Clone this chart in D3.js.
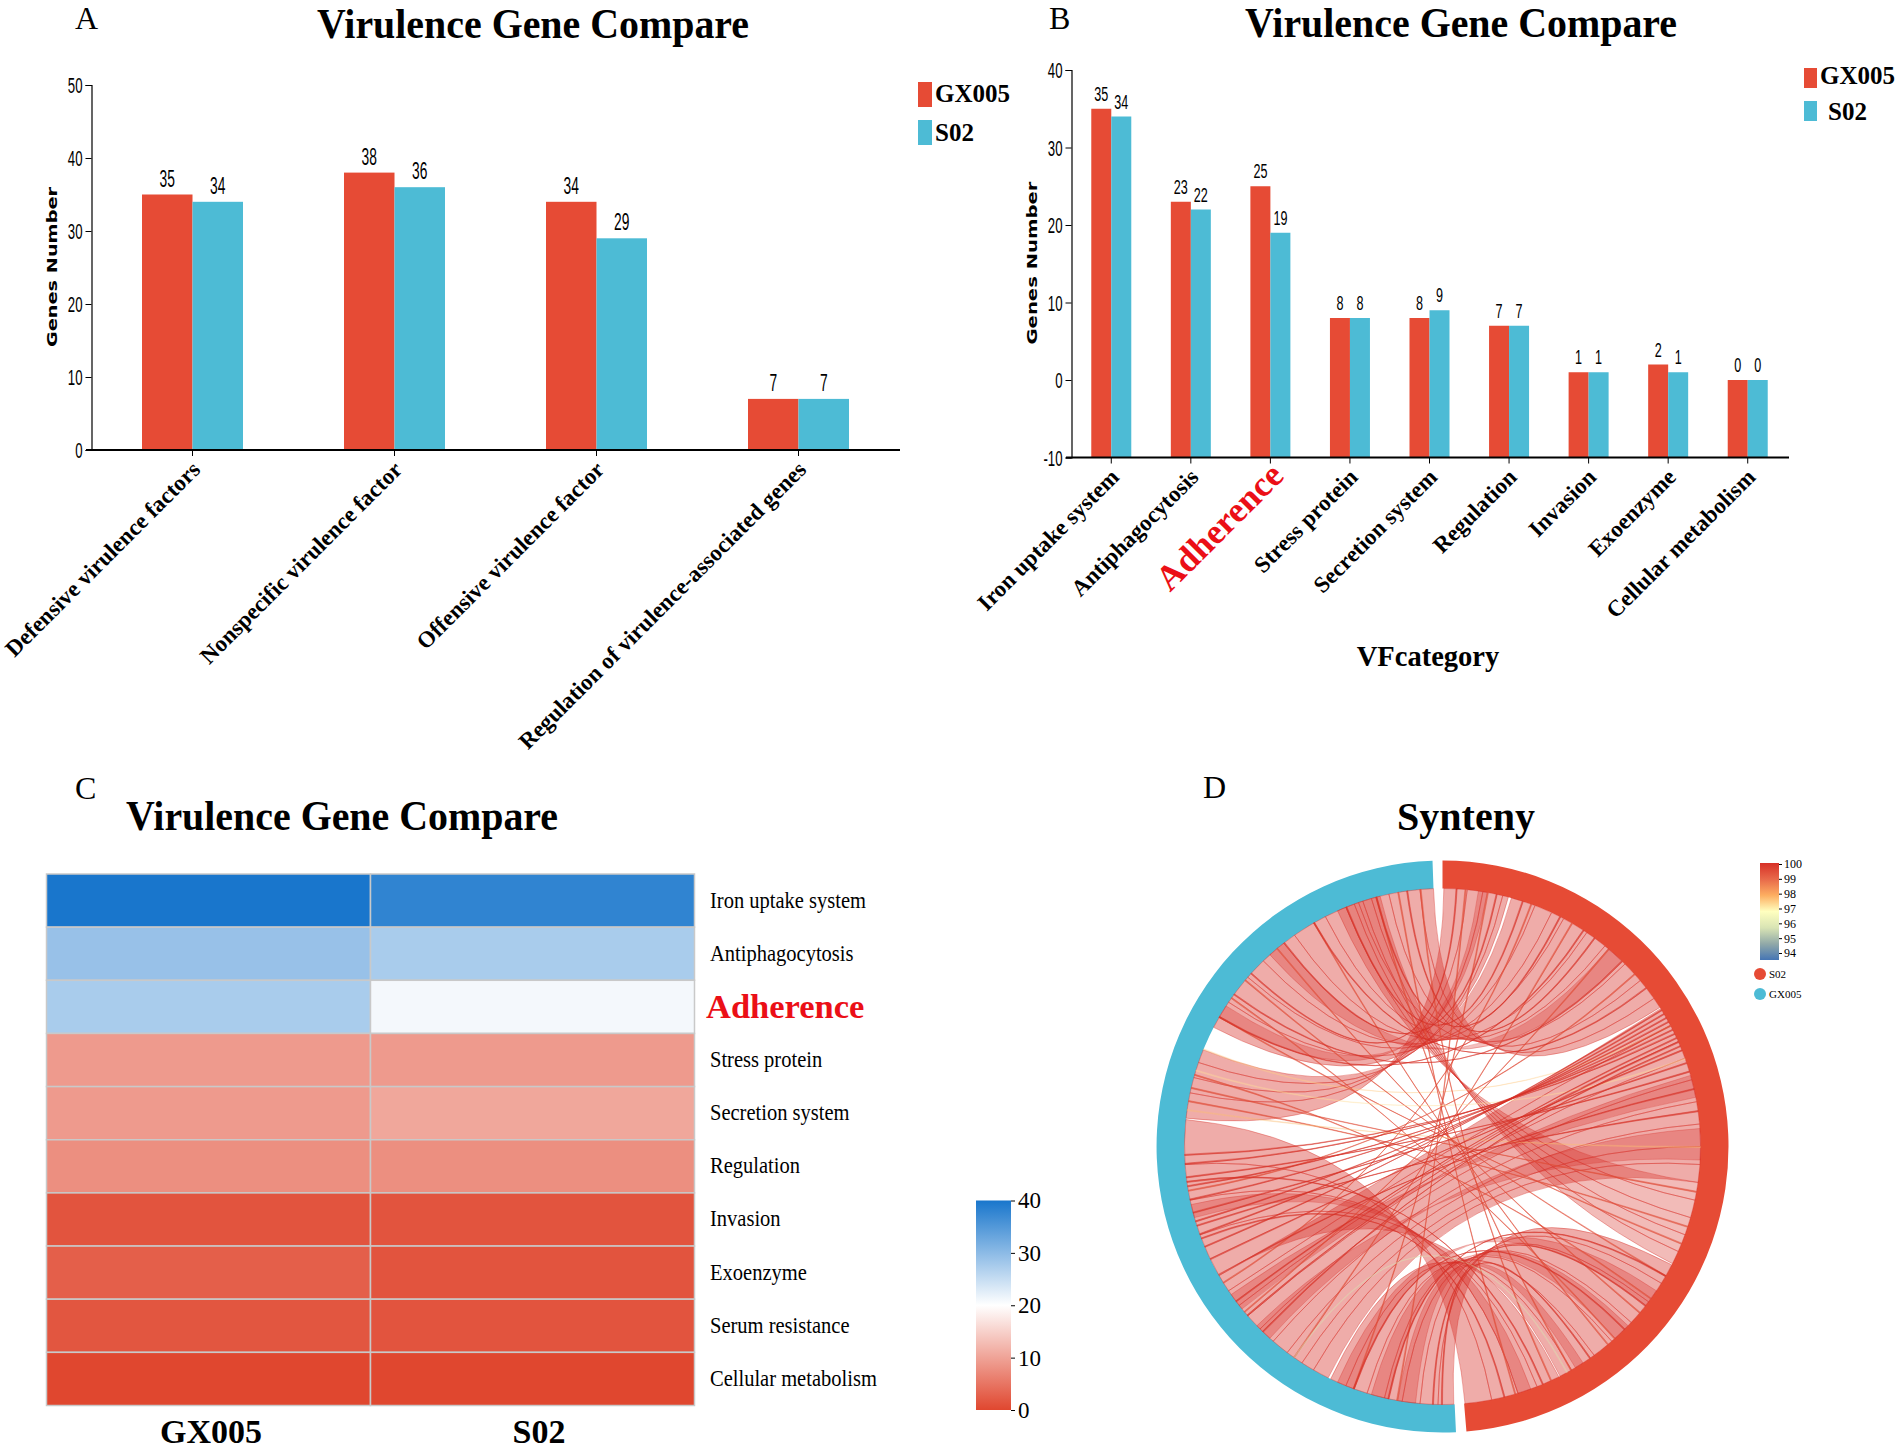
<!DOCTYPE html>
<html><head><meta charset="utf-8">
<script src="https://cdn.jsdelivr.net/npm/d3@7"></script>
<style>
html,body{margin:0;padding:0;background:#fff}
svg{display:block}
.serif{font-family:"Liberation Serif",serif}
.num{font-family:"Liberation Sans",sans-serif}
.axis path,.axis line{stroke:#000;fill:none}
</style></head><body>
<svg id="c" width="1902" height="1451"></svg>
<script>
// ---- data ----
const seriesNames = ["GX005","S02"];
const seriesColors = ["#e64b35","#4dbbd5"];

const catsA = ["Defensive virulence factors","Nonspecific virulence factor","Offensive virulence factor","Regulation of virulence-associated genes"];
const gxA = [35,38,34,7];
const s02A = [34,36,29,7];

const catsB = ["Iron uptake system","Antiphagocytosis","Adherence","Stress protein","Secretion system","Regulation","Invasion","Exoenzyme","Cellular metabolism"];
const gxB = [35,23,25,8,8,7,1,2,0];
const s02B = [34,22,19,8,9,7,1,1,0];

const catsC = ["Iron uptake system","Antiphagocytosis","Adherence","Stress protein","Secretion system","Regulation","Invasion","Exoenzyme","Serum resistance","Cellular metabolism"];
const gxC = [40,29,27.5,9,9,7.8,1.4,2.6,1.6,0];
const s02C = [38,27.5,21,9,10.4,7.8,1.4,1.4,1.4,0];
const heatTicks = [0,10,20,30,40];
const heatColors = ["#e0472f","#ffffff","#1976cc"];

// synteny blocks: matching stops (degrees clockwise from the top) on each genome
const s02Block1 = [0.3,5.5,9,13.5,14.8];
const gxBlock1  = [276.3,282,285.5,289,292];
const s02Block2 = [15.5,21,25,28,34,39,45,50,55,57.4];
const gxBlock2  = [297.5,304,311,316,325,333,341,348,355,358];
const s02Block3 = [57.7,62,66,70,75,80,85,90,94,98];
const gxBlock3  = [240,236,232,229,225,221,217,213,210,206.3];
const s02Block4 = [117.3,122,127,133,139,144,150,152.9];
const gxBlock4  = [177.5,181,185,189,193,197,202,205.7];
const s02Block5 = [153.2,158.5,163,169,175];
const gxBlock5  = [240.3,250,258,266,276];
const s02Block6 = [98,102,106,110,114,117];
const gxBlock6  = [336,338,340,342,344,346];
// tapered darker links: [S02 from, S02 to, GX005 from, GX005 to]
const taperLinks = [[86,93,222,226],[74,79,231,235],[134,138,192,196],[124,128,200,204],[160,163,254,257],[147,149,186,190],[40,44,318,322],[8,10,300,303]];
// single thin links: [S02 deg, GX005 deg, identity]
const thinLinks = [[62,292,97.6],[100,283,99.5],[108,280,99.5],[126,286,99.5],[112,300,99.5],[120,310,99.5],[130,320,99.5],[140,330,99.5],[150,345,99.5],[138,305,99.5],[30,215,99.5],[40,230,99.5],[20,238,99.5],[48,260,99.5],[10,200,99.5],[5,190,99.5],[163.5,350,99.5],[90,278,97.8],[70,287,97.4],[155,355,99.5],
 [58,247,100],[59,250,100],[60,253,100],[61,258,100],[62,261,100],[63,266,100],[64,268,100],[65,233,100],[66,229,100],[67,224,100],[68,244,100],[71,255,100],[73,263,100],[77,240,100],[82,252,100],
 [12,322,100],[18,338,100],[27,345,100],[33,300,100],[44,306,100],[52,330,100],[36,352,100],[3,312,100],[120,192,100],[128,182,100],[135,200,100],[145,180,100],[151,215,96],[157,262,100],[166,249,100]];
const identityTicks = [94,95,96,97,98,99,100];
const identityColors = ["#4575b4","#91a9a8","#d9e4b4","#ffffbf","#fdae61","#e8694a","#d73027"];

// ---- helpers ----
const svg = d3.select("#c");
function text(g,x,y,s,size,opt={}){
  const t=g.append("text").attr("x",x).attr("y",y).text(s)
    .attr("font-size",size).attr("class",opt.cls||"serif")
    .attr("font-weight",opt.bold?"bold":"normal")
    .attr("text-anchor",opt.anchor||"start").attr("fill",opt.fill||"#000");
  if(opt.sx) t.attr("x",0).attr("y",0).attr("transform",`translate(${x},${y}) scale(${opt.sx},1)`);
  return t;
}

function barPanel(cats,gx,s02,o){
  const g=svg.append("g");
  const x=d3.scaleBand().domain(cats).range(o.xr);
  const y=d3.scaleLinear().domain(o.yd).range(o.yr);
  const inner=d3.scaleBand().domain(seriesNames).range([0,o.barW*2]);
  const base=o.yd[0];
  [gx,s02].forEach((vals,si)=>{
    g.selectAll(null).data(vals).join("rect")
      .attr("x",(d,i)=>x(cats[i])+x.bandwidth()/2-o.barW+inner(seriesNames[si]))
      .attr("width",inner.bandwidth())
      .attr("y",d=>y(d)).attr("height",d=>y(base)-y(d))
      .attr("fill",seriesColors[si]);
    g.selectAll(null).data(vals).join("text")
      .attr("class","num").attr("font-size",o.valSize).attr("text-anchor","middle")
      .attr("transform",(d,i)=>`translate(${x(cats[i])+x.bandwidth()/2-o.barW+inner(seriesNames[si])+inner.bandwidth()/2},${y(d)-8}) scale(0.6,1)`)
      .text(d=>d);
  });
  const ya=g.append("g").attr("class","axis").attr("transform",`translate(${o.xr[0]},0)`)
    .call(d3.axisLeft(y).tickValues(o.ticks).tickSize(6).tickFormat(d=>String(d)));
  ya.select(".domain").attr("stroke-width",1.2);
  ya.selectAll("text").attr("class","num").attr("font-size",o.tickSize).attr("fill","#000")
    .attr("text-anchor","end").attr("x",0).attr("dy","0.35em")
    .attr("transform",`translate(-9,0) scale(0.6,1)`);
  const xa=g.append("g").attr("class","axis").attr("transform",`translate(0,${o.yr[0]})`)
    .call(d3.axisBottom(x).tickSize(6).tickFormat(""));
  xa.select(".domain").remove();
  g.append("line").attr("x1",o.xl[0]).attr("x2",o.xl[1]).attr("y1",o.yr[0]).attr("y2",o.yr[0]).attr("stroke","#000").attr("stroke-width",2);
  cats.forEach(c=>{
    const hl=c==="Adherence";
    const px=x(c)+x.bandwidth()/2+o.labDx+(hl?o.hlDx:0), py=o.yr[0]+o.labDy+(hl?o.hlDy:0);
    text(g,0,0,c,hl?o.hlSize:o.labSize,{bold:true,anchor:"end",fill:hl?"#eb0f16":"#000"})
      .attr("transform",`translate(${px},${py}) rotate(-45)`);
  });
  text(g,0,0,"Genes Number",o.ytSize,{bold:true,anchor:"middle",cls:"gn"})
    .style("font-family","'DejaVu Sans',sans-serif")
    .attr("textLength",o.ytLen).attr("lengthAdjust","spacingAndGlyphs")
    .attr("transform",`translate(${o.ytX},${o.ytY}) rotate(-90)`);
  return g;
}

function legend(o){
  seriesNames.forEach((n,i)=>{
    svg.append("rect").attr("x",o.x).attr("y",o.y[i]).attr("width",o.w).attr("height",o.h).attr("fill",seriesColors[i]);
    text(svg,o.tx[i],o.ty[i],n,o.size,{bold:true});
  });
}

// ---- panel A ----
text(svg,75,29,"A",32);
text(svg,533,38,"Virulence Gene Compare",42,{bold:true,anchor:"middle",sx:0.95});
barPanel(catsA,gxA,s02A,{xr:[91.5,899.5],xl:[86,900],yd:[0,50],yr:[450,85],ticks:[0,10,20,30,40,50],barW:50.5,
  valSize:23,tickSize:22,labDx:9,labDy:21,labSize:23,hlDx:0,hlDy:0,hlSize:23,ytSize:14.5,ytLen:160,ytX:57,ytY:267});
legend({x:918,y:[82,120],w:14,h:25,tx:[935,935],ty:[102,141],size:25});

// ---- panel B ----
text(svg,1049,29,"B",32);
text(svg,1461,37,"Virulence Gene Compare",42,{bold:true,anchor:"middle",sx:0.95});
barPanel(catsB,gxB,s02B,{xr:[1071.5,1787.5],xl:[1066,1789],yd:[-10,40],yr:[457.5,70],ticks:[-10,0,10,20,30,40],barW:20,
  valSize:21,tickSize:22,labDx:9,labDy:21,labSize:23,hlDx:6,hlDy:-1,hlSize:35.5,ytSize:14.5,ytLen:163,ytX:1037,ytY:263});
legend({x:1804,y:[68,101],w:13,h:20,tx:[1820,1828],ty:[84,120],size:25});
text(svg,1428,666,"VFcategory",28.5,{bold:true,anchor:"middle"});

// ---- panel C ----
text(svg,75,799,"C",32);
text(svg,342,830,"Virulence Gene Compare",42,{bold:true,anchor:"middle",sx:0.95});
(function(){
  const g=svg.append("g");
  const x=d3.scaleBand().domain(seriesNames).range([46.5,694.5]);
  const y=d3.scaleBand().domain(catsC).range([874,1405.5]);
  const color=d3.scaleLinear().domain([0,20,40]).range(heatColors);
  [gxC,s02C].forEach((vals,si)=>{
    g.selectAll(null).data(vals).join("rect")
      .attr("x",x(seriesNames[si])).attr("width",x.bandwidth())
      .attr("y",(d,i)=>y(catsC[i])).attr("height",y.bandwidth())
      .attr("fill",d=>color(d)).attr("stroke","#c9c9c9").attr("stroke-width",1.5);
  });
  catsC.forEach(c=>{
    const hl=c==="Adherence";
    text(g,hl?706:710,y(c)+y.bandwidth()/2+(hl?11:7),c,hl?34.5:23,{bold:hl,fill:hl?"#eb0f16":"#000",sx:hl?1:0.892});
  });
  seriesNames.forEach((n,i)=>text(g,[211,539][i],1443,n,34,{bold:true,anchor:"middle"}));
  const defs=svg.append("defs");
  const lg=defs.append("linearGradient").attr("id","heatGrad").attr("x1",0).attr("x2",0).attr("y1",1).attr("y2",0);
  heatColors.forEach((c,i)=>lg.append("stop").attr("offset",i/2).attr("stop-color",c));
  const cy=d3.scaleLinear().domain([0,40]).range([1410,1200.5]);
  g.append("rect").attr("x",976).attr("y",cy(40)).attr("width",35).attr("height",cy(0)-cy(40)).attr("fill","url(#heatGrad)");
  const a=g.append("g").attr("class","axis").attr("transform","translate(1011,0)").call(d3.axisRight(cy).tickValues(heatTicks).tickSize(4));
  a.select(".domain").remove();
  a.selectAll("text").attr("class","serif").attr("font-size",23).attr("fill","#000").attr("x",7);
})();

// ---- panel D ----
text(svg,1203,798,"D",32);
text(svg,1466,830,"Synteny",40,{bold:true,anchor:"middle"});
(function(){
  const cx=1442.5, cy=1146.5, rO=286, rI=258;
  const g=svg.append("g").attr("transform",`translate(${cx},${cy})`);
  const rad=d3.scaleLinear().domain([0,360]).range([0,2*Math.PI]);
  const arc=d3.arc().innerRadius(rI).outerRadius(rO);
  g.append("path").attr("d",arc({startAngle:rad(0),endAngle:rad(175.2)})).attr("fill",seriesColors[0]);
  g.append("path").attr("d",arc({startAngle:rad(177.3),endAngle:rad(358)})).attr("fill",seriesColors[1]);
  const idColor=d3.scaleLinear().domain(identityTicks).range(identityColors);
  function pt(a){const t=rad(a)-Math.PI/2;return [rI*Math.cos(t),rI*Math.sin(t)];}
  // s0 is joined to ga and s1 to gb
  function ribbon(s0,s1,ga,gb){
    const p=d3.path();
    const a=pt(s0),c=pt(gb);
    p.moveTo(a[0],a[1]);
    p.arc(0,0,rI,rad(s0)-Math.PI/2,rad(s1)-Math.PI/2,false);
    p.quadraticCurveTo(0,0,c[0],c[1]);
    p.arc(0,0,rI,rad(gb)-Math.PI/2,rad(ga)-Math.PI/2,ga<gb);
    p.quadraticCurveTo(0,0,a[0],a[1]);
    p.closePath();
    return p.toString();
  }
  const red=idColor(100);
  const blocks=[[s02Block1,gxBlock1],[s02Block2,gxBlock2],[s02Block3,gxBlock3],[s02Block4,gxBlock4],[s02Block5,gxBlock5],[s02Block6,gxBlock6]];
  blocks.forEach(([ss,gs],bi)=>{
    d3.pairs(ss).forEach(([s0,s1],i)=>{
      g.append("path").attr("d",ribbon(s0,s1,gs[i],gs[i+1]))
        .attr("fill",red).attr("fill-opacity",bi===5?0.33:0.4)
        .attr("stroke",red).attr("stroke-opacity",0.55).attr("stroke-width",0.7);
    });
  });
  taperLinks.forEach(([s0,s1,g0,g1])=>{
    g.append("path").attr("d",ribbon(s0,s1,g0,g1))
      .attr("fill",red).attr("fill-opacity",0.3)
      .attr("stroke",red).attr("stroke-opacity",0.5).attr("stroke-width",0.6);
  });
  thinLinks.forEach(([s,gg,id])=>{
    g.append("path").attr("d",ribbon(s,s+0.25,gg,gg+0.25))
      .attr("fill",idColor(id)).attr("fill-opacity",id<99?0.3:0.6)
      .attr("stroke",idColor(id)).attr("stroke-opacity",id<99?0.4:0.7).attr("stroke-width",0.7);
  });
  // legend
  const defs=svg.select("defs");
  const lg=defs.append("linearGradient").attr("id","idGrad").attr("x1",0).attr("x2",0).attr("y1",1).attr("y2",0);
  identityColors.forEach((c,i)=>lg.append("stop").attr("offset",i/(identityColors.length-1)).attr("stop-color",c));
  const ly=d3.scaleLinear().domain([94,100]).range([953,864]);
  svg.append("rect").attr("x",1760).attr("y",863).attr("width",19).attr("height",97).attr("fill","url(#idGrad)");
  const a=svg.append("g").attr("class","axis").attr("transform","translate(1779,0)").call(d3.axisRight(ly).tickValues(identityTicks).tickSize(3).tickFormat(d=>String(d)));
  a.select(".domain").remove();
  a.selectAll("line").attr("stroke","#555");
  a.selectAll("text").attr("class","serif").attr("font-size",12).attr("fill","#000").attr("x",5);
  [["S02",974,seriesColors[0]],["GX005",994,seriesColors[1]]].forEach(([n,yy,c])=>{
    svg.append("circle").attr("cx",1760).attr("cy",yy).attr("r",6).attr("fill",c);
    text(svg,1769,yy+4,n,11);
  });
})();
</script>
</body></html>
